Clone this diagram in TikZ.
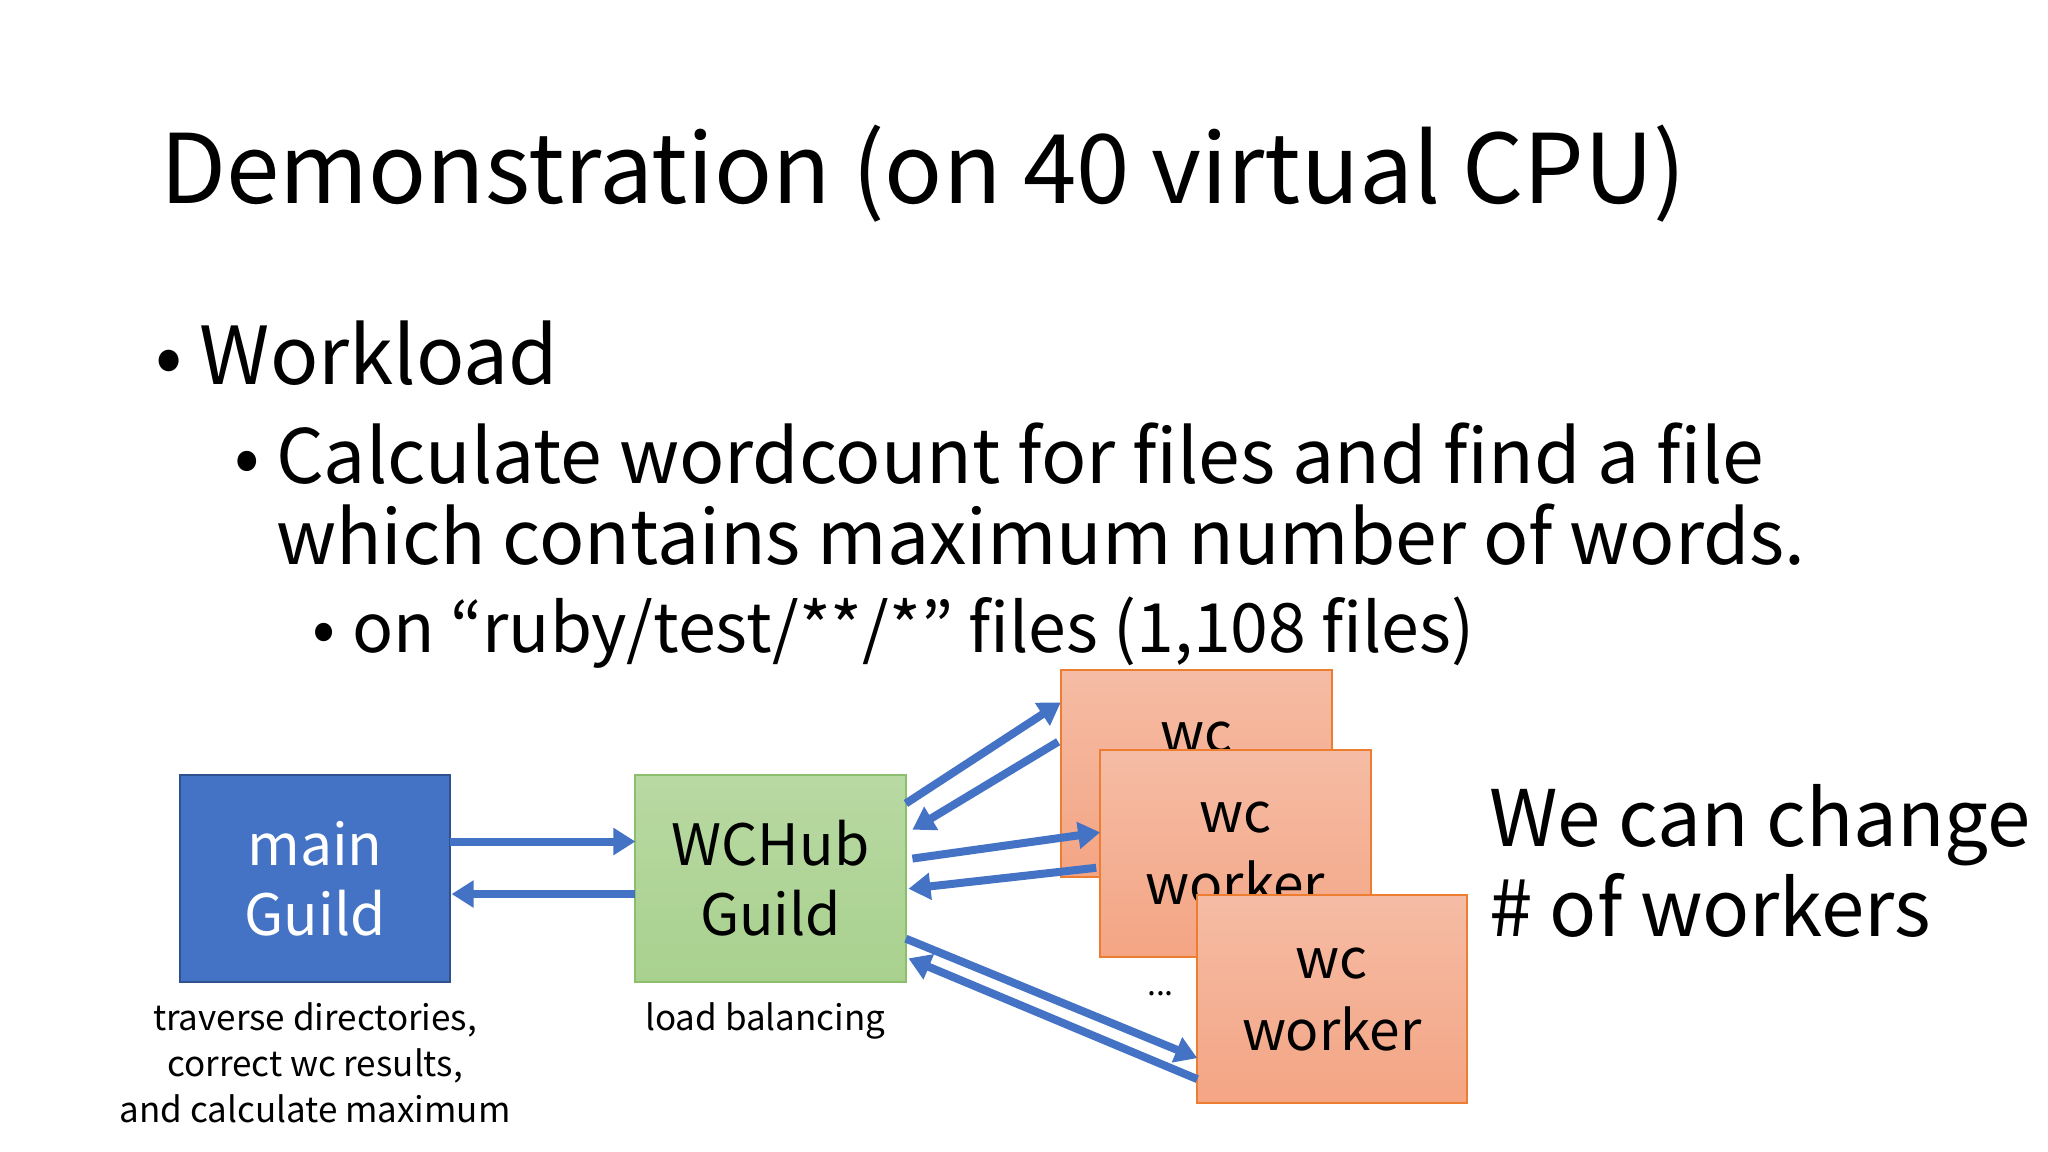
\documentclass[tikz,border=0pt]{standalone}
\usepackage{fontspec}
\setmainfont{Noto Sans CJK JP}
\usetikzlibrary{arrows.meta}
\definecolor{mblue}{HTML}{4472C4}
\definecolor{mbluedk}{HTML}{2F528F}
\definecolor{mgreen}{HTML}{A9D18E}
\definecolor{mgreenlt}{HTML}{B8D9A3}
\definecolor{mgreendk}{HTML}{8CBF6B}
\definecolor{oranget}{HTML}{F5BCA5}
\definecolor{orangeb}{HTML}{F4A584}
\definecolor{orangedk}{HTML}{ED7D31}
\definecolor{arrblue}{HTML}{4472C4}
\begin{document}
\begin{tikzpicture}[x=0.6564pt,y=-0.6564pt,
  box/.style={draw, line width=1pt, minimum width=206*0.6564pt, minimum height=158*0.6564pt, align=center, inner sep=0pt, font=\fontsize{28.5}{35}\selectfont},
  worker/.style={box, draw=orangedk, top color=oranget, bottom color=orangeb, font=\fontsize{27.5}{36}\selectfont},
  arr/.style={draw=arrblue, line width=4pt, -{Triangle[length=11pt,width=13pt]}},
  lab/.style={font=\fontsize{17.5}{23}\selectfont, align=center, anchor=north},
  txt/.style={anchor=base west, inner sep=0pt}]
\useasboundingbox (0,0) rectangle (1560,877.5);
\fill[white] (0,0) rectangle (1560,877.5);
\node[txt, font=\fontsize{48}{56}\selectfont] (title) at (122,155) {Demonstration (on 40 virtual CPU)};
\node[txt, font=\fontsize{40}{46}\selectfont] (bu1) at (118,293) {•};
\node[txt, font=\fontsize{40}{46}\selectfont] (b1) at (152,293) {Workload};
\node[txt, font=\fontsize{37.5}{42}\selectfont] (bu2) at (178,368) {•};
\node[txt, font=\fontsize{37.5}{42}\selectfont] (b2a) at (210,368) {Calculate wordcount for files and find a file};
\node[txt, font=\fontsize{37.5}{42}\selectfont] (b2b) at (210,430) {which contains maximum number of words.};
\node[txt, font=\fontsize{34}{38}\selectfont] (bu3) at (238,497) {•};
\node[txt, font=\fontsize{34}{38}\selectfont] (b3) at (268,497) {on “ruby/test/**/*” files (1,108 files)};

\node[box, draw=mbluedk, fill=mblue, text=white] (main) at (240,669) {main\\Guild};
\node[box, draw=mgreendk, top color=mgreenlt, bottom color=mgreen] (hub) at (587,669) {WCHub\\Guild};
\node[worker] (w1) at (911.5,589) {wc\\worker};
\node[worker] (w2) at (941,650) {wc\\worker};
\node[worker] (w3) at (1014.5,761) {wc\\worker};
\node[font=\fontsize{16}{20}\selectfont] (dots) at (884,757) {...};

\node[lab] (mainlab) at (240,758) {traverse directories,\\correct wc results,\\and calculate maximum};
\node[lab] (hublab) at (583,758) {load balancing};

\node[txt, font=\fontsize{39}{48}\selectfont] (we1) at (1134,645) {We can change};
\node[txt, font=\fontsize{39}{48}\selectfont] (we2) at (1134,713) {\# of workers};

\coordinate (a1s) at (343,641); \coordinate (a1e) at (484,641);
\coordinate (a2s) at (484,681); \coordinate (a2e) at (344,681);
\coordinate (c1s) at (690,612); \coordinate (c1e) at (808,535);
\coordinate (c2s) at (806,565); \coordinate (c2e) at (695,632);
\coordinate (d1s) at (695,654); \coordinate (d1e) at (838,634);
\coordinate (d2s) at (835,661); \coordinate (d2e) at (692,677);
\coordinate (e1s) at (690,715); \coordinate (e1e) at (912,806);
\coordinate (e2s) at (912,822); \coordinate (e2e) at (692,730);
\draw[arr] (a1s) -- (a1e);
\draw[arr] (a2s) -- (a2e);
\draw[arr] (c1s) -- (c1e);
\draw[arr] (c2s) -- (c2e);
\draw[arr] (d1s) -- (d1e);
\draw[arr] (d2s) -- (d2e);
\draw[arr] (e1s) -- (e1e);
\draw[arr] (e2s) -- (e2e);
\end{tikzpicture}
\end{document}
